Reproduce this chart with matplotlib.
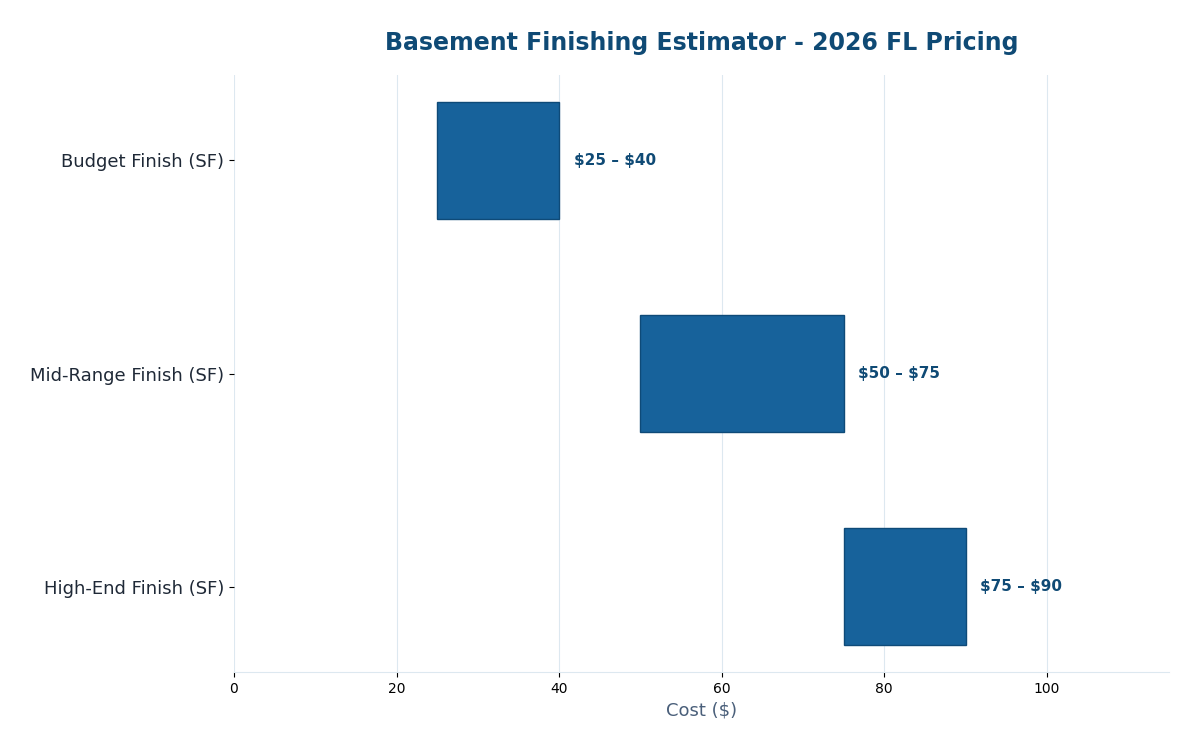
import matplotlib
matplotlib.use("Agg")
import matplotlib.pyplot as plt

categories = ["Budget Finish (SF)", "Mid-Range Finish (SF)", "High-End Finish (SF)"]
low_values = [25, 50, 75]
high_values = [40, 75, 90]
labels = ["$25 – $40", "$50 – $75", "$75 – $90"]
xticks = [0, 20, 40, 60, 80, 100]

fig = plt.figure(figsize=(12, 7.5), dpi=100)
ax = fig.add_axes([0.195, 0.104, 0.779, 0.796])

ypos = list(range(len(categories)))
widths = [h - l for l, h in zip(low_values, high_values)]
ax.barh(ypos, widths, left=low_values, height=0.55, color="#17629b",
        edgecolor="#0e4a78", linewidth=1, zorder=3)
for y, h, t in zip(ypos, high_values, labels):
    ax.text(h + 1.8, y, t, va="center", ha="left", fontsize=11,
            fontweight="bold", color="#0f4a75", parse_math=False)

ax.set_yticks(ypos)
ax.set_yticklabels(categories, fontsize=13, color="#1f2937")
ax.set_ylim(2.4, -0.4)
ax.set_xlim(0, 115)
ax.set_xticks(xticks)
ax.tick_params(axis="x", labelsize=10)
ax.grid(axis="x", color="#dde8f0", linewidth=0.8, zorder=0)
ax.set_axisbelow(True)
for s in ["top", "right", "left"]:
    ax.spines[s].set_visible(False)
ax.spines["bottom"].set_color("#dde8f0")
ax.set_xlabel("Cost ($)", fontsize=13, color="#4a5f7a")
ax.set_title("Basement Finishing Estimator - 2026 FL Pricing", fontsize=17,
             fontweight="bold", color="#0f4a75", pad=18)

fig.savefig("out.png", dpi=100)
